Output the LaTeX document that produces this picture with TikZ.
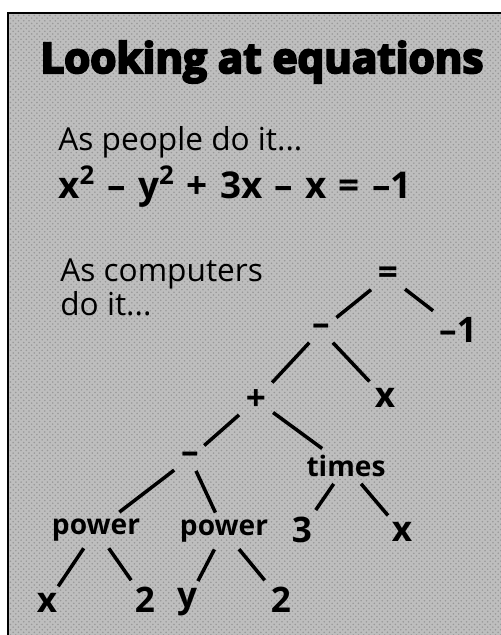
\documentclass[tikz,border=0pt]{standalone}
\usepackage{fontspec}
\setmainfont{Open Sans}
\newfontfamily\heavyfont{Open Sans}[BoldFeatures={FakeBold=5}]
\usepackage{tikz}
\usetikzlibrary{patterns}
\definecolor{PanelGray}{RGB}{190, 190, 190}

\begin{document}
\begin{tikzpicture}[title/.style={font=\heavyfont\bfseries\fontsize{24}{28}\selectfont, anchor=base west, inner sep=0pt},
  txt/.style={font=\fontsize{18}{19.5}\selectfont, anchor=base west, inner sep=0pt, align=left},
  eqn/.style={font=\bfseries\fontsize{21}{24}\selectfont, anchor=base west, inner sep=0pt},
  sym/.style={font=\bfseries\fontsize{20}{22}\selectfont, inner sep=3pt}, word/.style={sym, font=\bfseries\fontsize{16}{18}\selectfont},
  br/.style={line width=2pt, shorten <=1pt, shorten >=1pt}]
\useasboundingbox (0,0) rectangle (10.02,-12.7);
\fill[white] (0,0) rectangle (10.02,-12.7);
\fill[PanelGray] (0.16,-0.26) rectangle (10.02,-12.7);
\fill[pattern=crosshatch dots, pattern color=black!40] (0.16,-0.26) rectangle (10.02,-12.7);
\draw[line width=1.3pt] (0.16,-12.7) -- (0.16,-0.26) -- (10.02,-0.26);
\node[title] (head) at (0.80,-1.46) {Looking at equations};
\node[txt] (people) at (1.16,-3.00) {As people do it...};
\node[eqn] (eq) at (1.16,-3.96) {x\textsuperscript{2}\hspace{.33em}–\hspace{.33em}y\textsuperscript{2}\hspace{.33em}+\hspace{.33em}3x\hspace{.33em}–\hspace{.33em}x\hspace{.33em}=\hspace{.33em}–1};
\node[txt, anchor=north west] (comp) at (1.20,-5.16) {As computers\\do it...};
\node[sym] (equal) at (7.76,-5.52) {=};
\node[sym] (m1) at (6.42,-6.60) {–};
\node[sym] (n1) at (9.16,-6.60) {–1};
\node[sym] (plus) at (5.12,-8.00) {+};
\node[sym] (x1) at (7.70,-7.96) {x};
\node[sym] (m2) at (3.80,-9.16) {–};
\node[word] (times) at (6.92,-9.32) {times};
\node[word] (pw1) at (1.92,-10.60) {power};
\node[word] (pw2) at (4.48,-10.62) {power};
\node[sym] (three) at (6.04,-10.60) {3};
\node[sym] (x2) at (8.04,-10.64) {x};
\node[sym] (x3) at (0.94,-12.06) {x};
\node[sym] (two1) at (2.90,-12.00) {2};
\node[sym] (y1) at (3.74,-12.04) {y};
\node[sym] (two2) at (5.62,-12.00) {2};
\draw[br] (equal) -- (m1); \draw[br] (equal) -- (n1);
\draw[br] (m1) -- (plus); \draw[br] (m1) -- (x1);
\draw[br] (plus) -- (m2); \draw[br] (plus) -- (times);
\draw[br] (m2) -- (pw1); \draw[br] (m2) -- (pw2);
\draw[br] (times) -- (three); \draw[br] (times) -- (x2);
\draw[br] (pw1) -- (x3); \draw[br] (pw1) -- (two1);
\draw[br] (pw2) -- (y1); \draw[br] (pw2) -- (two2);
\end{tikzpicture}
\end{document}
